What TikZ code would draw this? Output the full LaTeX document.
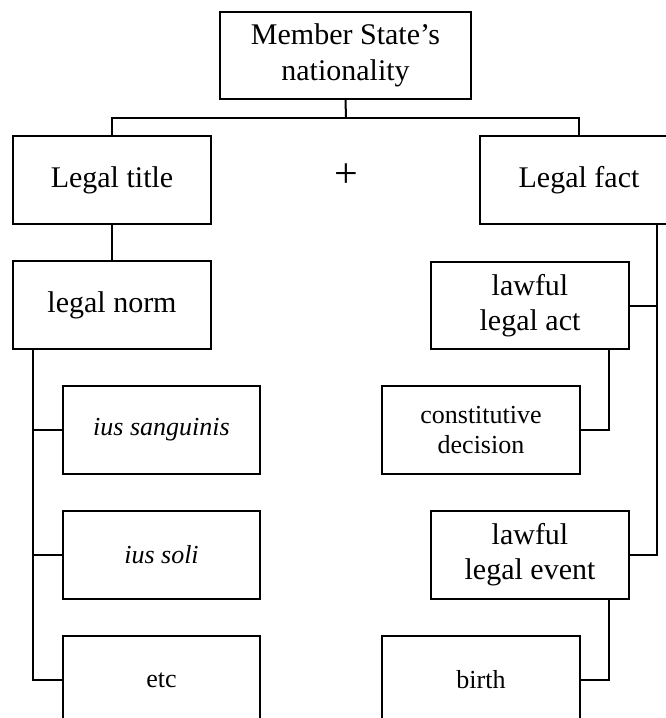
\documentclass[tikz,border=0pt]{standalone}
\usepackage{fontspec}
\setmainfont{Liberation Serif}
\begin{document}
\begin{tikzpicture}[x=1pt,y=-1pt,
  line width=2pt,
  box/.style={draw, rectangle, inner sep=0pt, minimum width=198pt, minimum height=88pt,
    align=center, font=\fontsize{30}{35}\selectfont},
  smallbox/.style={box, font=\fontsize{26}{30}\selectfont},
  link/.style={draw, line width=2pt}]
\useasboundingbox (0,0) rectangle (666,718);
\clip (0,0) rectangle (666,718);

% top level
\node[box, minimum width=251pt, minimum height=87pt, font=\fontsize{30}{36}\selectfont]
  (nat) at (345.5,55.5) {Member State’s\\nationality};
\node[box] (title) at (112,180) {Legal title};
\node[box] (fact) at (579,180) {Legal fact};
\node[font=\fontsize{42}{42}\selectfont] (plus) at (346,176) {+};
\coordinate (fork) at (346,118);

% legal title branch
\node[box] (norm) at (112,305) {legal norm};
\node[smallbox, minimum width=197pt] (sang) at (161.5,430) {\itshape ius sanguinis};
\node[smallbox, minimum width=197pt] (soli) at (161.5,555) {\itshape ius soli};
\node[smallbox, minimum width=197pt] (etc) at (161.5,680) {etc};
\coordinate (ltrunk) at (33,349);

% legal fact branch
\node[box, minimum height=87pt] (act) at (530,305.5) {lawful\\legal act};
\node[smallbox] (decision) at (481,430) {constitutive\\decision};
\node[box] (event) at (530,555) {lawful\\legal event};
\node[smallbox] (birth) at (481,680) {birth};
\coordinate (rtrunk) at (657,224);

% connectors
\draw[link] (nat.south) -- (fork);
\draw[link] (title.north) |- (fork) -| (fact.north);
\draw[link] (title.south) -- (norm.north);
\draw[link] (ltrunk) |- (etc.west);
\draw[link] (ltrunk) |- (sang.west);
\draw[link] (ltrunk) |- (soli.west);
\draw[link] (rtrunk) |- (event.east);
\draw[link] (rtrunk) |- (act.east);
\draw[link] ([xshift=79pt]act.south) |- (decision.east);
\draw[link] ([xshift=79pt]event.south) |- (birth.east);
\end{tikzpicture}
\end{document}
